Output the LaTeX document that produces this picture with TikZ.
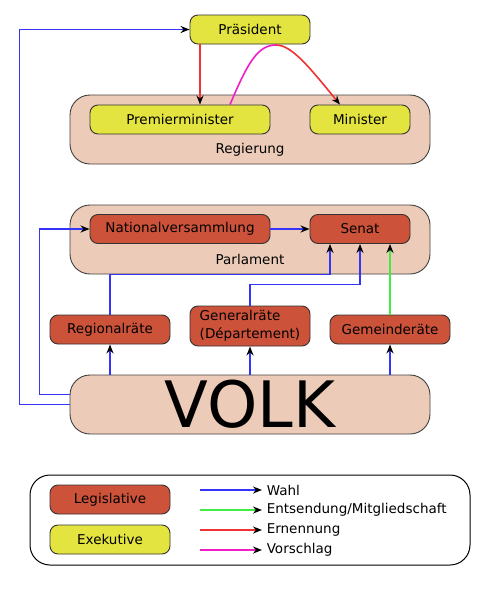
\documentclass[tikz,border=0pt]{standalone}
\usepackage{fontspec}
\setmainfont{DejaVu Sans}
\usetikzlibrary{arrows.meta}

\definecolor{exek}{RGB}{228,228,64}
\definecolor{legis}{RGB}{204,82,58}
\definecolor{hell}{RGB}{236,204,184}
\definecolor{wahlc}{RGB}{52,52,250}
\definecolor{entsc}{RGB}{64,236,64}
\definecolor{ernc}{RGB}{240,50,50}
\definecolor{vorc}{RGB}{240,30,200}

\begin{document}
\begin{tikzpicture}[x=1pt,y=-1pt,
    font=\fontsize{13.5}{15}\selectfont,
    box/.style={draw=black!80,line width=0.9pt,rounded corners=8pt,inner sep=0pt},
    exbox/.style={box,fill=exek,minimum width=120pt,minimum height=29pt},
    lgbox/.style={box,fill=legis,minimum width=120pt,minimum height=29pt},
    hull/.style={draw=black!75,line width=0.9pt,fill=hell,rounded corners=20pt},
    pfeil/.style={line width=1.6pt,-{Stealth[black,length=9pt,width=7pt]}},
    wahl/.style={pfeil,wahlc},
    ents/.style={pfeil,entsc},
    ern/.style={pfeil,ernc},
    vor/.style={pfeil,vorc}]
  \useasboundingbox (0,0) rectangle (500,595);

  % Rahmen
  \draw[hull] (70,95) rectangle (430,164);
  \draw[hull] (70,205) rectangle (430,274);
  \node at (250,150) {Regierung};
  \node at (250,259) {Parlament};

  % Exekutive
  \node[exbox] (praes) at (250,29.5) {Präsident};
  \node[exbox,minimum width=180pt] (pm) at (180,119.5) {Premierminister};
  \node[exbox,minimum width=100pt] (min) at (360,119.5) {Minister};

  % Legislative
  \node[lgbox,minimum width=180pt] (nat) at (180,229) {Nationalversammlung};
  \node[lgbox,minimum width=100pt] (senat) at (360,229) {Senat};
  \node[lgbox] (reg) at (110,329.5) {Regionalräte};
  \node[lgbox,minimum height=40pt,align=left] (gen) at (250,326)
    {Generalräte\\[3pt](Département)};
  \node[lgbox] (gem) at (390,329.5) {Gemeinderäte};

  \node[hull,minimum width=360pt,minimum height=59pt,inner sep=0pt,
    font=\fontsize{64}{64}\selectfont] (volk) at (250,404.5) {VOLK};

  % Wahl
  \draw[wahl] (volk.west) -- ++(-50,0) |- (praes.west);
  \draw[wahl] ([yshift=10pt]volk.west) -- ++(-30,0) |- (nat.west);
  \draw[wahl] (nat.east) -- (senat.west);
  \foreach \r in {reg,gen,gem} {
    \draw[wahl] (\r |- volk.north) -- (\r.south);
  }
  \draw[wahl] (reg.north) -- ++(0,-40) -| ([xshift=-30pt]senat.south);
  \draw[wahl] (gen.north) -- ++(0,-21) -| (senat.south);
  \draw[ents] (gem.north) -- ([xshift=30pt]senat.south);

  % Ernennung, Vorschlag
  \draw[ern] ([xshift=-50pt]praes.south) -- ([xshift=20pt]pm.north);
  \coordinate (spitze) at (276,45);
  \draw[vorc,line width=1.6pt] ([xshift=50pt]pm.north)
    .. controls (248,62) and (258,45) .. (spitze);
  \draw[ern] (spitze) .. controls (292,45) and (310,68) .. ([xshift=-20pt]min.north);

  % Legende
  \draw[black,line width=1pt,rounded corners=20pt] (30,475) rectangle (470,565);
  \node[lgbox] (legi) at (110,499.5) {Legislative};
  \node[exbox] (exe) at (110,539.5) {Exekutive};
  \foreach \y/\s/\t in {490/wahl/Wahl,510/ents/Entsendung\slash Mitgliedschaft,
      530/ern/Ernennung,550/vor/Vorschlag} {
    \coordinate (a\y) at (200,\y);
    \draw[\s] (a\y) -- ++(62,0) node[right,black,inner sep=4pt] (t\y) {\t};
  }
\end{tikzpicture}
\end{document}
